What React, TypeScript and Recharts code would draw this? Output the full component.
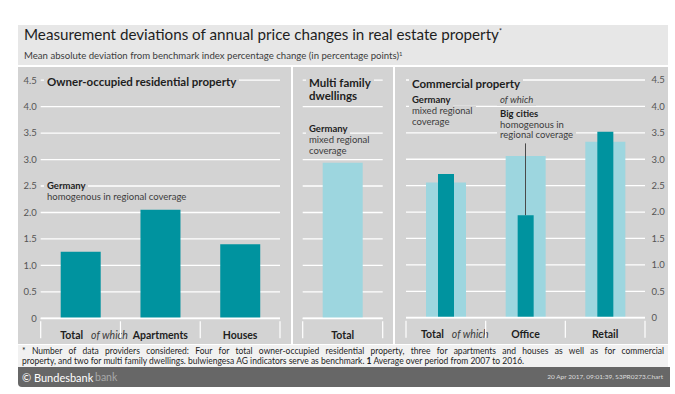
import React from 'react';
import { BarChart, Bar, XAxis, YAxis, CartesianGrid, ReferenceLine } from 'recharts';

// ---------- data ----------
const residentialCategories = ['Total', 'Apartments', 'Houses'];
const residentialValues = [1.26, 2.05, 1.4];

const multiFamilyCategories = ['Total'];
const multiFamilyValues = [2.94];

const commercialCategories = ['Total', 'Office', 'Retail'];
const commercialGermany = [2.56, 3.06, 3.33];
const commercialBigCities = [2.72, 1.94, 3.52];

const yTicks = [0, 0.5, 1, 1.5, 2, 2.5, 3, 3.5, 4, 4.5];
const annotationTop = 3.3;

const residentialData = residentialCategories.map((c, i) => ({ cat: c, v: residentialValues[i] }));
const multiData = multiFamilyCategories.map((c, i) => ({ cat: c, v: multiFamilyValues[i] }));
const commercialData = commercialCategories.map((c, i) => ({
  cat: c,
  germany: commercialGermany[i],
  big: commercialBigCities[i],
}));

// ---------- style ----------
const FONT = 'Lato, "Open Sans", sans-serif';
const PANEL = '#d3d3d3';
const BAND = '#e7e7e7';
const DARK = '#00939f';
const LIGHT = '#9dd6df';
const TXT = '#1e1e1e';
const SUB = '#3c3c3c';

const fmt = (v: number) => (v === 0 ? '0' : v.toFixed(1));

function CategoryTick(props: any) {
  const { x, y, payload, index, band, count, totalOffset, ofWhich } = props;
  const label = payload.value as string;
  const left = x - band / 2;
  const right = x + band / 2;
  const base = y + 20.5;
  return (
    <g>
      <line x1={left} x2={left} y1={y + 3} y2={y + 20} stroke="#ffffff" strokeWidth={1.2} />
      {index === count - 1 && (
        <line x1={right} x2={right} y1={y + 3} y2={y + 20} stroke="#ffffff" strokeWidth={1.2} />
      )}
      {label === 'Total' && ofWhich ? (
        <>
          <text x={x + totalOffset} y={base} textAnchor="end" fontFamily={FONT} fontSize={10.5} fontWeight={700} fill={TXT}>
            Total
          </text>
          <text x={x + totalOffset + 8} y={base} textAnchor="start" fontFamily={FONT} fontSize={10.5} fontStyle="italic" fill={SUB}>
            of which
          </text>
        </>
      ) : (
        <text x={x} y={base} textAnchor="middle" fontFamily={FONT} fontSize={10.5} fontWeight={700} fill={TXT}>
          {label}
        </text>
      )}
    </g>
  );
}

function T(props: {
  x: number;
  cy: number;
  size: number;
  lh?: number;
  bold?: boolean;
  italic?: boolean;
  color?: string;
  bg?: string;
  children: React.ReactNode;
}) {
  const lh = props.lh ?? props.size + 2;
  return (
    <div
      style={{
        position: 'absolute',
        left: props.x - (props.bg ? 3 : 0),
        top: props.cy - lh / 2,
        lineHeight: `${lh}px`,
        fontSize: props.size,
        fontWeight: props.bold ? 700 : 400,
        fontStyle: props.italic ? 'italic' : 'normal',
        color: props.color || TXT,
        background: props.bg || 'transparent',
        padding: props.bg ? '0 3px' : 0,
        whiteSpace: 'nowrap',
      }}
    >
      {props.children}
    </div>
  );
}

export default function App() {
  const H = 277;
  return (
    <div
      style={{
        position: 'absolute',
        left: 0,
        top: 0,
        width: 675,
        height: 394,
        background: '#ffffff',
        fontFamily: FONT,
        overflow: 'hidden',
      }}
    >
      {/* title band */}
      <div style={{ position: 'absolute', left: 18, top: 25, width: 650, height: 40, background: BAND }} />
      <T x={24} cy={35} size={15.2}>
        Measurement deviations of annual price changes in real estate property
        <sup style={{ fontSize: 7, verticalAlign: 'top', lineHeight: '10px' }}>*</sup>
      </T>
      <T x={24} cy={56} size={9.6} color={SUB}>
        Mean absolute deviation from benchmark index percentage change (in percentage points)
        <sup style={{ fontSize: 6, verticalAlign: 'top', lineHeight: '8px' }}>1</sup>
      </T>

      {/* panels */}
      <div style={{ position: 'absolute', left: 18, top: 67, width: 273, height: H, background: PANEL }} />
      <div style={{ position: 'absolute', left: 293, top: 67, width: 100, height: H, background: PANEL }} />
      <div style={{ position: 'absolute', left: 395, top: 67, width: 273, height: H, background: PANEL }} />

      {/* panel 1: owner-occupied */}
      <div style={{ position: 'absolute', left: 18, top: 67 }}>
        <BarChart width={273} height={H} data={residentialData} margin={{ top: 13.2, right: 11, bottom: 0, left: 0 }}>
          <CartesianGrid vertical={false} stroke="#ffffff" strokeWidth={1.3} />
          <YAxis
            domain={[0, 4.5]}
            ticks={yTicks}
            width={22.7}
            tickSize={0}
            tickMargin={4}
            axisLine={false}
            tickLine={false}
            tickFormatter={fmt}
            tick={{ fill: '#555555', fontSize: 9.5, fontFamily: FONT }}
            interval={0}
          />
          <XAxis
            dataKey="cat"
            height={25.7}
            axisLine={false}
            tickLine={false}
            tickSize={0}
            tickMargin={0}
            interval={0}
            tick={(p: any) => (
              <CategoryTick {...p} band={239.3 / 3} count={residentialCategories.length} totalOffset={2.5} ofWhich />
            )}
          />
          <ReferenceLine y={0} stroke="#ffffff" strokeWidth={1.8} />
          <Bar dataKey="v" fill={DARK} barSize={40} isAnimationActive={false} />
        </BarChart>
      </div>

      {/* panel 2: multi family */}
      <div style={{ position: 'absolute', left: 293, top: 67 }}>
        <BarChart width={100} height={H} data={multiData} margin={{ top: 13.2, right: 10.3, bottom: 0, left: 9.7 }}>
          <CartesianGrid vertical={false} stroke="#ffffff" strokeWidth={1.3} />
          <YAxis hide domain={[0, 4.5]} ticks={yTicks} interval={0} />
          <XAxis
            dataKey="cat"
            height={25.7}
            axisLine={false}
            tickLine={false}
            tickSize={0}
            tickMargin={0}
            interval={0}
            tick={(p: any) => <CategoryTick {...p} band={80} count={1} totalOffset={0} />}
          />
          <ReferenceLine y={0} stroke="#ffffff" strokeWidth={1.8} />
          <Bar dataKey="v" fill={LIGHT} barSize={40} isAnimationActive={false} />
        </BarChart>
      </div>

      {/* panel 3: commercial */}
      <div style={{ position: 'absolute', left: 395, top: 67 }}>
        <BarChart width={273} height={H} data={commercialData} margin={{ top: 13, right: 0, bottom: 0, left: 11 }}>
          <CartesianGrid vertical={false} stroke="#ffffff" strokeWidth={1.3} xAxisId="a" />
          <YAxis
            orientation="right"
            domain={[0, 4.5]}
            ticks={yTicks}
            width={23}
            tickSize={0}
            tickMargin={6.5}
            axisLine={false}
            tickLine={false}
            tickFormatter={fmt}
            tick={{ fill: '#555555', fontSize: 9.5, fontFamily: FONT, textAnchor: 'start' }}
            interval={0}
          />
          <XAxis
            xAxisId="a"
            dataKey="cat"
            height={26.3}
            axisLine={false}
            tickLine={false}
            tickSize={0}
            tickMargin={0}
            interval={0}
            tick={(p: any) => (
              <CategoryTick {...p} band={239 / 3} count={commercialCategories.length} totalOffset={-2} ofWhich />
            )}
          />
          <XAxis xAxisId="b" dataKey="cat" hide />
          <ReferenceLine y={0} stroke="#ffffff" strokeWidth={1.8} xAxisId="a" />
          <Bar xAxisId="a" dataKey="germany" fill={LIGHT} barSize={40} isAnimationActive={false} />
          <Bar xAxisId="b" dataKey="big" fill={DARK} barSize={16} isAnimationActive={false} />
          <ReferenceLine
            xAxisId="b"
            segment={[
              { x: 'Office', y: annotationTop },
              { x: 'Office', y: commercialBigCities[1] },
            ]}
            stroke="#4a4a4a"
            strokeWidth={1}
          />
        </BarChart>
      </div>

      {/* panel annotations */}
      <T x={47} cy={82} size={11.5} bold bg={PANEL}>Owner-occupied residential property</T>
      <T x={47} cy={185.7} size={9.5} bold bg={PANEL}>Germany</T>
      <T x={47} cy={196.7} size={9.5} color={SUB} bg={PANEL}>homogenous in regional coverage</T>

      <T x={309} cy={83} size={11.5} bold bg={PANEL}>Multi family</T>
      <T x={309} cy={96} size={11.5} bold>dwellings</T>
      <T x={309} cy={128.3} size={9.5} bold bg={PANEL}>Germany</T>
      <T x={309} cy={139.5} size={9.5} color={SUB}>mixed regional</T>
      <T x={309} cy={150.5} size={9.5} color={SUB}>coverage</T>

      <T x={412} cy={84} size={11.5} bold bg={PANEL}>Commercial property</T>
      <T x={412} cy={100.5} size={9.5} lh={10.5} bold bg={PANEL}>Germany</T>
      <T x={412} cy={111.2} size={9.5} lh={10.5} color={SUB} bg={PANEL}>mixed regional</T>
      <T x={412} cy={121.8} size={9.5} lh={10.5} color={SUB} bg={PANEL}>coverage</T>
      <T x={500} cy={100.5} size={9.5} lh={10.5} italic color={SUB} bg={PANEL}>of which</T>
      <T x={500} cy={114.5} size={9.5} lh={10.5} bold bg={PANEL}>Big cities</T>
      <T x={500} cy={125} size={9.5} lh={10.5} color={SUB} bg={PANEL}>homogenous in</T>
      <T x={500} cy={135.5} size={9.5} lh={10.5} color={SUB} bg={PANEL}>regional coverage</T>

      {/* footnote */}
      <div style={{ position: 'absolute', left: 18, top: 345, width: 650, height: 24, background: '#f1f1f1' }} />
      <div
        style={{
          position: 'absolute',
          left: 22,
          top: 347,
          width: 642,
          fontSize: 8.5,
          lineHeight: '9px',
          height: 9,
          color: TXT,
          textAlign: 'justify',
          textAlignLast: 'justify',
          whiteSpace: 'nowrap',
        }}
      >
        * Number of data providers considered: Four for total owner-occupied residential property, three for apartments and houses as well as for commercial
      </div>
      <div
        style={{
          position: 'absolute',
          left: 22,
          top: 356.5,
          fontSize: 8.5,
          lineHeight: '9px',
          height: 9,
          color: TXT,
          whiteSpace: 'nowrap',
        }}
      >
        property, and two for multi family dwellings. bulwiengesa AG indicators serve as benchmark. <b>1</b> Average over period from 2007 to 2016.
      </div>

      {/* bottom bar */}
      <div
        style={{
          position: 'absolute',
          left: 18,
          top: 367,
          width: 652,
          height: 20,
          background: '#676767',
          borderBottomLeftRadius: 4,
        }}
      />
      <T x={95} cy={377.3} size={10.5} color="#a9a9a9">bank</T>
      <T x={22} cy={377.3} size={11} color="#ffffff">© Bundesbank</T>
      <div
        style={{
          position: 'absolute',
          right: 12,
          top: 373,
          fontSize: 6.5,
          lineHeight: '8px',
          color: '#dddddd',
          whiteSpace: 'nowrap',
        }}
      >
        20 Apr 2017, 09:01:39, S3PR0273.Chart
      </div>
    </div>
  );
}
